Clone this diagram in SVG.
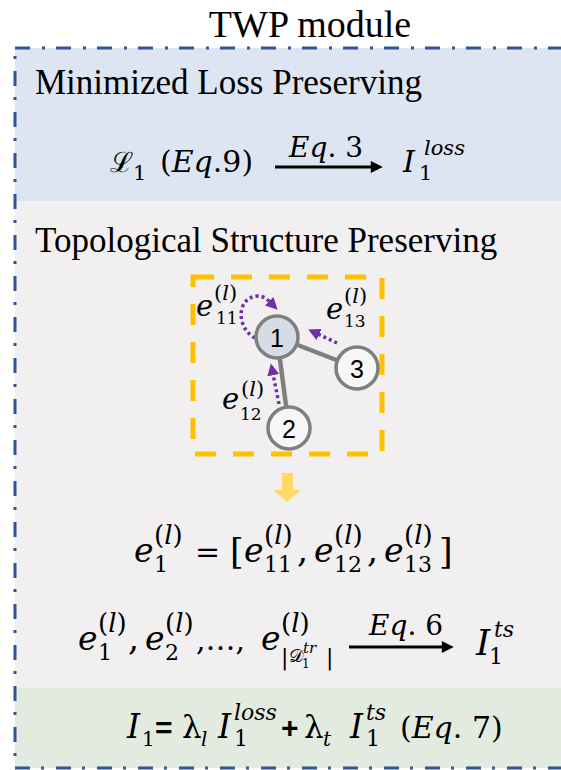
<svg xmlns="http://www.w3.org/2000/svg" width="561" height="770" viewBox="0 0 561 770">
<style>
.t{font-family:"Liberation Serif","Times New Roman",serif;fill:#000}
.m{font-family:"DejaVu Serif",serif;fill:#000}
.i{font-style:italic}
.s{font-family:"Liberation Sans",Arial,sans-serif}
.num{font-family:"Liberation Sans",Arial,sans-serif;font-size:25px;text-anchor:middle;fill:#000}
.edge{stroke:#7f7f7f;stroke-width:4.5;fill:none}
.node{stroke:#7f7f7f;stroke-width:3.5}
.dot{stroke:#7030a0;stroke-width:3.5;stroke-dasharray:3 3;fill:none}
.blk{stroke:#000;stroke-width:3;fill:none}
</style>
<defs>
<marker id="ah" viewBox="0 0 10 10" refX="1" refY="5" markerWidth="14" markerHeight="12" markerUnits="userSpaceOnUse" orient="auto"><path d="M0,0 L10,5 L0,10 z" fill="#000"/></marker>
<marker id="ap" viewBox="0 0 10 10" refX="1" refY="5" markerWidth="12" markerHeight="12" markerUnits="userSpaceOnUse" orient="auto"><path d="M0,0 L10,5 L0,10 z" fill="#7030a0"/></marker>
</defs>
<rect width="561" height="770" fill="#fff"/>
<g id="title"><text class="t" x="310" y="37" font-size="38" text-anchor="middle">TWP module</text></g>
<g id="panels">
<rect x="15" y="48" width="570" height="153" fill="#dde5f2"/>
<rect x="15" y="201" width="570" height="487" fill="#f1eff0"/>
<rect x="15" y="688" width="570" height="80" fill="#e3eadf"/>
<rect id="frame" x="15" y="48" width="570" height="720" fill="none" stroke="#2f5597" stroke-width="3" stroke-dasharray="15 12 3 11"/>
</g>
<g id="panel-loss">
<text class="t" x="35" y="94" font-size="35">Minimized Loss Preserving</text>
<text class="m" font-size="30"><tspan x="110" y="172" font-size="28">ℒ</tspan><tspan x="133" y="180" font-size="21">1</tspan><tspan x="160" y="172">(</tspan><tspan class="i">Eq</tspan><tspan>.9)</tspan></text>
<text class="m" font-size="28" x="289" y="157"><tspan class="i">Eq</tspan>. 3</text>
<text class="m" font-size="30"><tspan class="i" x="403" y="172">I</tspan><tspan x="419" y="180" font-size="21">1</tspan><tspan class="i" x="424" y="155" font-size="21">loss</tspan></text>
</g>
<g id="panel-ts">
<text class="t" x="35" y="252" font-size="35">Topological Structure Preserving</text>
<rect id="neighborhood" x="193" y="277" width="189" height="177" fill="none" stroke="#ffc000" stroke-width="5" stroke-dasharray="21 17"/>
</g>
<g id="connectors">
<line class="edge" x1="277" y1="337" x2="357" y2="368"/>
<line class="edge" x1="277" y1="337" x2="289" y2="428"/>
<path class="dot" d="M255,338 C236,328 236,297 258,296 C263,296 267,299 270,302" marker-end="url(#ap)"/>
<path class="dot" d="M337,343 L318,334" marker-end="url(#ap)"/>
<path class="dot" d="M279,404 L273,374" marker-end="url(#ap)"/>
<line class="blk" x1="275" y1="167" x2="372" y2="167" marker-end="url(#ah)"/>
<line class="blk" x1="349" y1="647" x2="443" y2="647" marker-end="url(#ah)"/>
<path id="down-arrow" d="M282,473 H293 V490 H301 L287,502 L273,490 H282 Z" fill="#ffd966"/>
</g>
<g id="node1"><circle class="node" cx="277" cy="337" r="21" fill="#d6dce5"/><text class="num" x="277" y="347">1</text></g>
<g id="node2"><circle class="node" cx="289" cy="428" r="21" fill="#f7f7f7"/><text class="num" x="289" y="438">2</text></g>
<g id="node3"><circle class="node" cx="357" cy="368" r="21" fill="#f7f7f7"/><text class="num" x="357" y="378">3</text></g>
<g id="edge-labels">
<text class="m" font-size="29"><tspan class="i" x="196" y="316">e</tspan><tspan x="214" y="300" font-size="21">(<tspan class="i">l</tspan>)</tspan><tspan x="216" y="324" font-size="17">11</tspan></text>
<text class="m" font-size="29"><tspan class="i" x="326" y="319">e</tspan><tspan x="344" y="303" font-size="21">(<tspan class="i">l</tspan>)</tspan><tspan x="344" y="327" font-size="17">13</tspan></text>
<text class="m" font-size="29"><tspan class="i" x="222" y="409">e</tspan><tspan x="241" y="396" font-size="21">(<tspan class="i">l</tspan>)</tspan><tspan x="240" y="420" font-size="17">12</tspan></text>
</g>
<g id="eq-concat">
<text class="m" font-size="33"><tspan class="i" x="134" y="562">e</tspan><tspan x="154" y="544" font-size="26">(<tspan class="i">l</tspan>)</tspan><tspan x="154" y="572" font-size="22">1</tspan><tspan x="195" y="562" font-size="30">=</tspan><tspan x="230" y="564" font-size="35">[</tspan><tspan class="i" x="244" y="562">e</tspan><tspan x="264" y="544" font-size="26">(<tspan class="i">l</tspan>)</tspan><tspan x="264" y="572" font-size="22">11</tspan><tspan x="297" y="562" font-size="35">,</tspan><tspan class="i" x="314" y="562">e</tspan><tspan x="334" y="544" font-size="26">(<tspan class="i">l</tspan>)</tspan><tspan x="334" y="572" font-size="22">12</tspan><tspan x="367" y="562" font-size="35">,</tspan><tspan class="i" x="384" y="562">e</tspan><tspan x="404" y="544" font-size="26">(<tspan class="i">l</tspan>)</tspan><tspan x="404" y="572" font-size="22">13</tspan><tspan x="439" y="564" font-size="35">]</tspan></text>
</g>
<g id="eq-ts">
<text class="m" font-size="33"><tspan class="i" x="78" y="650">e</tspan><tspan x="98" y="632" font-size="26">(<tspan class="i">l</tspan>)</tspan><tspan x="98" y="660" font-size="22">1</tspan><tspan x="128" y="650" font-size="35">,</tspan><tspan class="i" x="145" y="650">e</tspan><tspan x="165" y="632" font-size="26">(<tspan class="i">l</tspan>)</tspan><tspan x="165" y="660" font-size="22">2</tspan><tspan x="196" y="650" font-size="30">,…,</tspan><tspan class="i" x="261" y="650">e</tspan><tspan x="281" y="632" font-size="26">(<tspan class="i">l</tspan>)</tspan><tspan x="281" y="665" font-size="22">|</tspan><tspan x="289" y="662" font-size="18">𝒟</tspan><tspan x="302" y="668" font-size="12">1</tspan><tspan class="i" x="303" y="653" font-size="15">tr</tspan><tspan x="326" y="665" font-size="22">|</tspan></text>
<text class="m" font-size="28" x="369" y="635"><tspan class="i">Eq</tspan>. 6</text>
<text class="m" font-size="36"><tspan class="i" x="476" y="655">I</tspan><tspan x="489" y="664" font-size="22">1</tspan><tspan class="i" x="494" y="637" font-size="22">ts</tspan></text>
</g>
<g id="panel-combine">
<text class="m" font-size="33"><tspan class="i" x="127" y="738">I</tspan><tspan x="142" y="746" font-size="20">1</tspan><tspan class="s" x="155" y="738" font-size="30" font-weight="bold">=</tspan><tspan x="182" y="738" font-size="31">λ</tspan><tspan class="i" x="201" y="746" font-size="20">l</tspan><tspan class="i" x="218" y="738">I</tspan><tspan x="234" y="746" font-size="22">1</tspan><tspan class="i" x="234" y="720" font-size="22">loss</tspan><tspan class="s" x="281" y="738" font-size="30" font-weight="bold">+</tspan><tspan x="304" y="738" font-size="31">λ</tspan><tspan class="i" x="323" y="746" font-size="20">t</tspan><tspan class="i" x="350" y="738">I</tspan><tspan x="366" y="746" font-size="22">1</tspan><tspan class="i" x="366" y="720" font-size="22">ts</tspan><tspan x="400" y="738" font-size="30">(<tspan class="i">Eq</tspan>. 7)</tspan></text>
</g>
</svg>
